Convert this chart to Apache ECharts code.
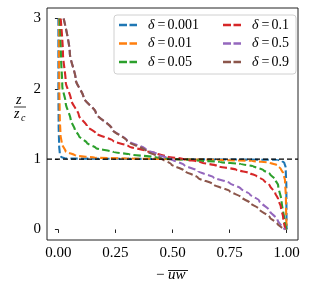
<!DOCTYPE html>
<html><head><meta charset="utf-8">
<script src="https://cdn.jsdelivr.net/npm/echarts@6/dist/echarts.min.js"></script>
<style>html,body{margin:0;padding:0;background:#fff}#c{width:312px;height:288px}</style>
</head><body><div id="c"></div>
<script>
const seriesNames = ['δ=0.001','δ=0.01','δ=0.05','δ=0.1','δ=0.5','δ=0.9'];
const colors = ['#1f77b4','#ff7f0e','#2ca02c','#d62728','#9467bd','#8c564b'];
const xTicks = [0, 0.25, 0.5, 0.75, 1.0];
const xTickLabels = ['0.00','0.25','0.50','0.75','1.00'];
const yTicks = [0, 1, 2, 3];
// [-uw, z/zc] pairs
const d0001 = [[0.000,3.0],[0.000,2.0],[0.001,1.5],[0.003,1.2],[0.006,1.08],[0.012,1.03],[0.03,1.01],[0.5,1.0],[0.96,0.99],[0.98,0.975],[0.99,0.95],[0.996,0.88],[0.999,0.6],[1.0,0.0]];
const d001 = [[0.004,3.0],[0.003,2.5],[0.004,2.0],[0.006,1.6],[0.009,1.35],[0.015,1.22],[0.032,1.11],[0.076,1.05],[0.164,1.02],[0.3,1.01],[0.5,1.0],[0.7,0.99],[0.85,0.975],[0.927,0.95],[0.96,0.91],[0.975,0.86],[0.985,0.8],[0.993,0.7],[0.997,0.45],[1.0,0.0]];
const d005 = [[0.006,3.0],[0.011,2.5],[0.017,2.04],[0.032,1.8],[0.054,1.56],[0.072,1.42],[0.09,1.33],[0.125,1.23],[0.164,1.16],[0.24,1.1],[0.31,1.07],[0.43,1.025],[0.49,1.005],[0.6,0.985],[0.707,0.96],[0.8,0.93],[0.854,0.9],[0.9,0.84],[0.927,0.79],[0.95,0.71],[0.963,0.63],[0.978,0.4],[0.99,0.14],[1.0,0.0]];
const d01 = [[0.01,3.0],[0.02,2.5],[0.032,2.1],[0.055,1.85],[0.09,1.62],[0.125,1.47],[0.164,1.37],[0.24,1.26],[0.31,1.18],[0.38,1.12],[0.43,1.08],[0.474,1.04],[0.55,1.0],[0.62,0.96],[0.70,0.9],[0.78,0.85],[0.84,0.8],[0.868,0.76],[0.9,0.7],[0.927,0.62],[0.95,0.52],[0.963,0.43],[0.975,0.32],[0.985,0.17],[0.995,0.0]];
const d05 = [[0.023,3.0],[0.05,2.51],[0.076,2.13],[0.11,1.88],[0.164,1.66],[0.237,1.42],[0.3,1.27],[0.383,1.14],[0.44,1.06],[0.495,1.0],[0.55,0.92],[0.612,0.83],[0.68,0.74],[0.751,0.66],[0.8,0.58],[0.839,0.5],[0.88,0.41],[0.927,0.26],[0.96,0.14],[0.993,0.0]];
const d09 = [[0.023,3.0],[0.05,2.51],[0.076,2.13],[0.11,1.88],[0.164,1.66],[0.237,1.42],[0.3,1.26],[0.383,1.12],[0.44,1.03],[0.495,0.925],[0.55,0.84],[0.612,0.735],[0.68,0.64],[0.751,0.545],[0.8,0.46],[0.839,0.38],[0.88,0.29],[0.927,0.17],[0.96,0.08],[0.993,0.0]];
const seriesData = [d0001, d001, d005, d01, d05, d09];
const refLine = [[-0.05,1],[1.05,1]];

const chart = echarts.init(document.getElementById('c'), null, {renderer:'canvas'});
const serif = '"Liberation Serif","DejaVu Serif",serif';
const dashIcon = 'path://M0 0h8v2.4H0z M10.5 0h7.5v2.4h-7.5z';
const series = seriesData.map((d,i)=>({
  name: seriesNames[i], type:'line', data:d, showSymbol:false, symbol:'none',
  smooth:0.25, smoothMonotone:'y',
  clip:true, z:2+i*0.01,
  lineStyle:{color:colors[i], width:2.1, type:[7.4,3.2]}, itemStyle:{color:colors[i]}
}));
series.push({type:'line', data:refLine, showSymbol:false, symbol:'none', z:3,
  lineStyle:{color:'#000', width:1.3, type:[5,3]}, silent:true});
const rich = {d:{fontFamily:serif, fontStyle:'italic', fontSize:14, color:'#000', padding:[0,1,0,6]},
  e:{fontFamily:serif, fontSize:14, color:'#000', padding:[0,2,0,2]},
  n:{fontFamily:serif, fontSize:14, color:'#000'}};
const fmt = name => '{d|δ}{e|=}{n|' + name.slice(2) + '}';
const legendCommon = {orient:'vertical', top:17, itemWidth:18, itemHeight:3, itemGap:2.5, padding:0,
  icon: dashIcon, formatter: fmt, textStyle:{fontSize:14, lineHeight:16, rich: rich}, z:10};
chart.setOption({
  animation:false,
  grid:{left:47, top:8, width:251, height:232, show:true, borderColor:'#222', borderWidth:1, backgroundColor:'transparent'},
  xAxis:{type:'value', min:-0.05, max:1.05,
    axisLine:{show:false}, splitLine:{show:false},
    axisTick:{show:true, length:3.5, inside:false, lineStyle:{color:'#222'}, customValues:xTicks},
    axisLabel:{customValues:xTicks, formatter: v => xTickLabels[xTicks.indexOf(v)] ?? '', fontFamily:serif, fontSize:15, color:'#000', margin:6}},
  yAxis:{type:'value', min:-0.15, max:3.15,
    axisLine:{show:false}, splitLine:{show:false},
    axisTick:{show:true, length:3.5, lineStyle:{color:'#222'}, customValues:yTicks},
    axisLabel:{customValues:yTicks, fontFamily:serif, fontSize:15, color:'#000', margin:6}},
  legend:[
    Object.assign({}, legendCommon, {left:119, data:seriesNames.slice(0,3)}),
    Object.assign({}, legendCommon, {left:223, data:seriesNames.slice(3)})
  ],
  graphic:[
    {type:'rect', shape:{x:114, y:15, width:182, height:59, r:3}, style:{fill:'rgba(255,255,255,0.8)', stroke:'#d0d0d0', lineWidth:1}, z:5},
    {type:'text', x:16, y:93, style:{text:'z', font:'italic 14px '+serif, fill:'#000'}, z:5},
    {type:'line', shape:{x1:14, y1:107, x2:26, y2:107}, style:{stroke:'#000', lineWidth:0.8}, z:5},
    {type:'text', x:14, y:107, style:{text:'z', font:'italic 14px '+serif, fill:'#000'}, z:5},
    {type:'text', x:21, y:113, style:{text:'c', font:'italic 10px '+serif, fill:'#000'}, z:5},
    {type:'text', x:156, y:268, style:{text:'−', font:'15px '+serif, fill:'#000'}, z:5},
    {type:'text', x:168, y:268, style:{text:'uw', font:'italic 15px '+serif, fill:'#000'}, z:5},
    {type:'line', shape:{x1:168, y1:270.5, x2:188, y2:270.5}, style:{stroke:'#000', lineWidth:0.9}, z:5}
  ],
  series: series
});
</script></body></html>
